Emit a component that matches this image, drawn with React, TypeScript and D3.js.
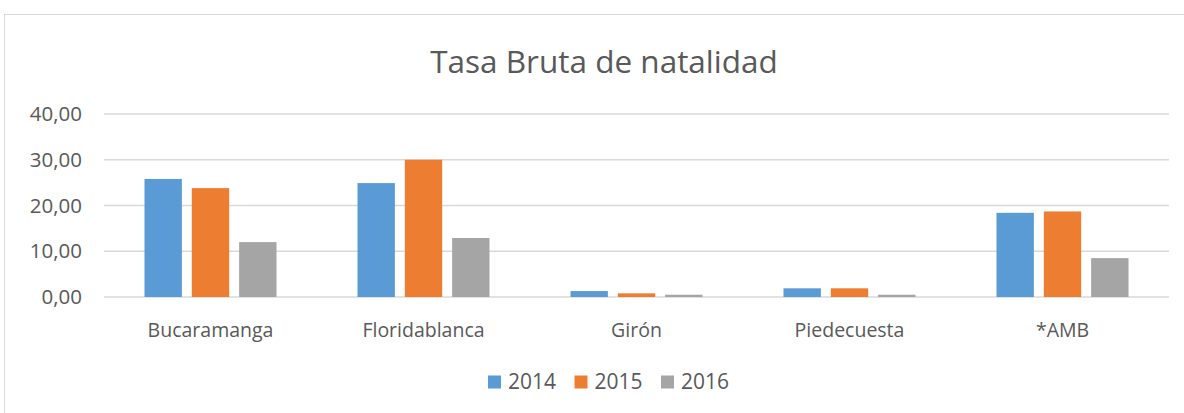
import React from 'react';
import * as d3 from 'd3';

const categories = ['Bucaramanga', 'Floridablanca', 'Girón', 'Piedecuesta', '*AMB'];
const years = ['2014', '2015', '2016'];
const values2014 = [25.8, 24.9, 1.3, 1.9, 18.4];
const values2015 = [23.8, 30.0, 0.8, 1.9, 18.7];
const values2016 = [12.0, 12.9, 0.5, 0.5, 8.5];
const yTicks = [0, 10, 20, 30, 40];

const colors = ['#5B9BD5', '#ED7D31', '#A5A5A5'];
const series = [values2014, values2015, values2016];

export default function App() {
  const width = 1184;
  const height = 413;
  const margin = { top: 114, right: 15, bottom: 116, left: 104 };
  const innerW = width - margin.left - margin.right;
  const innerH = height - margin.top - margin.bottom;

  const x = d3.scaleBand().domain(categories).range([0, innerW]);
  const x1 = d3.scaleBand().domain(years).range([0, 132]).paddingInner(0.21);
  const y = d3.scaleLinear().domain([0, 40]).range([innerH, 0]);
  const fmt = (v: number) => d3.format('.2f')(v).replace('.', ',');
  const font = 'Open Sans, Liberation Sans, sans-serif';

  return (
    <svg width={width} height={height} style={{ position: 'absolute', left: 0, top: 0 }}>
      <rect x={0} y={0} width={width} height={height} fill="#fff" />
      <rect x={4.5} y={14.5} width={width + 10} height={height + 10} fill="none" stroke="#D9D9D9" strokeWidth={1} />
      <text x={604} y={73} textAnchor="middle" fontFamily={font} fontSize={31.5} fill="#595959">
        Tasa Bruta de natalidad
      </text>
      <g transform={`translate(${margin.left},${margin.top})`}>
        {yTicks.map((t) => (
          <g key={t}>
            <line x1={0} x2={innerW} y1={y(t)} y2={y(t)} stroke="#D9D9D9" strokeWidth={1.5} />
            <text x={-22} y={y(t)} dy="0.35em" textAnchor="end" fontFamily={font} fontSize={20.5} fill="#595959">
              {fmt(t)}
            </text>
          </g>
        ))}
        {categories.map((c, i) => (
          <g key={c} transform={`translate(${(x(c) ?? 0) + x.bandwidth() / 2 - 66},0)`}>
            {series.map((s, j) => (
              <rect
                key={j}
                x={x1(years[j])}
                y={y(s[i])}
                width={x1.bandwidth()}
                height={innerH - y(s[i])}
                fill={colors[j]}
              />
            ))}
          </g>
        ))}
        {categories.map((c) => (
          <text
            key={c}
            x={(x(c) ?? 0) + x.bandwidth() / 2}
            y={innerH + 33}
            dy="0.35em"
            textAnchor="middle"
            fontFamily={font}
            fontSize={19.5}
            fill="#595959"
          >
            {c}
          </text>
        ))}
      </g>
      <g transform="translate(488,382)">
        {years.map((yr, i) => (
          <g key={yr} transform={`translate(${i * 86.5},0)`}>
            <rect x={0} y={-6.5} width={13} height={13} fill={colors[i]} />
            <text x={20} y={0} dy="0.35em" fontFamily={font} fontSize={21} fill="#595959">
              {yr}
            </text>
          </g>
        ))}
      </g>
    </svg>
  );
}
